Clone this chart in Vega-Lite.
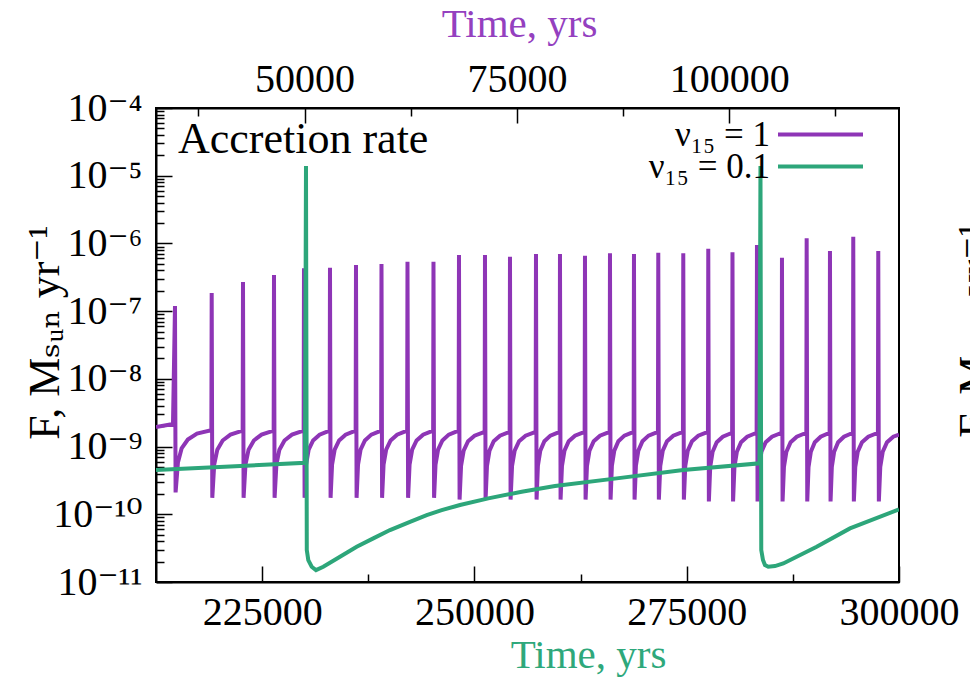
{
  "$schema": "https://vega.github.io/schema/vega-lite/v6.json",
  "width": 743,
  "height": 474,
  "autosize": "none",
  "padding": {"left": 156, "top": 108, "right": 71, "bottom": 98},
  "background": "white",
  "datasets": {
    "purple": [
      {"t":32500,"v":1.94e-9},{"t":34500,"v":2.15e-9},
      {"t":34737,"v":1.19e-7},{"t":34807,"v":2.1e-10},{"t":35083,"v":5.8e-10},{"t":35515,"v":9.4e-10},{"t":36250,"v":1.27e-9},{"t":37330,"v":1.55e-9},{"t":39019,"v":1.75e-9},
      {"t":39059,"v":1.85e-7},{"t":39129,"v":1.75e-10},{"t":39354,"v":5.4e-10},{"t":39722,"v":9.0e-10},{"t":40349,"v":1.23e-9},{"t":41271,"v":1.5e-9},{"t":42705,"v":1.72e-9},
      {"t":42745,"v":2.69e-7},{"t":42815,"v":1.75e-10},{"t":43037,"v":5.4e-10},{"t":43402,"v":9.0e-10},{"t":44023,"v":1.23e-9},{"t":44936,"v":1.5e-9},{"t":46356,"v":1.72e-9},
      {"t":46396,"v":3.41e-7},{"t":46466,"v":1.75e-10},{"t":46679,"v":5.4e-10},{"t":47032,"v":9.0e-10},{"t":47632,"v":1.23e-9},{"t":48515,"v":1.5e-9},{"t":49888,"v":1.72e-9},
      {"t":49928,"v":4.29e-7},{"t":49998,"v":1.75e-10},{"t":50173,"v":5.4e-10},{"t":50479,"v":9.0e-10},{"t":51000,"v":1.23e-9},{"t":51765,"v":1.5e-9},{"t":52950,"v":1.72e-9},
      {"t":52990,"v":4.38e-7},{"t":53060,"v":1.75e-10},{"t":53235,"v":5.4e-10},{"t":53541,"v":9.0e-10},{"t":54062,"v":1.23e-9},{"t":54827,"v":1.5e-9},{"t":56012,"v":1.72e-9},
      {"t":56052,"v":4.8e-7},{"t":56122,"v":1.75e-10},{"t":56292,"v":5.4e-10},{"t":56593,"v":9.0e-10},{"t":57103,"v":1.23e-9},{"t":57854,"v":1.5e-9},{"t":59015,"v":1.72e-9},
      {"t":59055,"v":4.96e-7},{"t":59125,"v":1.75e-10},{"t":59300,"v":5.4e-10},{"t":59606,"v":9.0e-10},{"t":60127,"v":1.23e-9},{"t":60892,"v":1.5e-9},{"t":62077,"v":1.72e-9},
      {"t":62117,"v":5.37e-7},{"t":62187,"v":1.75e-10},{"t":62362,"v":5.4e-10},{"t":62668,"v":9.0e-10},{"t":63188,"v":1.23e-9},{"t":63954,"v":1.5e-9},{"t":65138,"v":1.72e-9},
      {"t":65178,"v":5.37e-7},{"t":65248,"v":1.75e-10},{"t":65418,"v":5.4e-10},{"t":65719,"v":9.0e-10},{"t":66229,"v":1.23e-9},{"t":66980,"v":1.5e-9},{"t":68141,"v":1.72e-9},
      {"t":68181,"v":6.74e-7},{"t":68251,"v":1.65e-10},{"t":68426,"v":5.2e-10},{"t":68732,"v":8.7e-10},{"t":69253,"v":1.2e-9},{"t":70018,"v":1.45e-9},{"t":71203,"v":1.65e-9},
      {"t":71243,"v":6.74e-7},{"t":71313,"v":1.65e-10},{"t":71479,"v":5.2e-10},{"t":71773,"v":8.7e-10},{"t":72273,"v":1.2e-9},{"t":73009,"v":1.45e-9},{"t":74147,"v":1.65e-9},
      {"t":74187,"v":6.37e-7},{"t":74257,"v":1.65e-10},{"t":74432,"v":5.2e-10},{"t":74738,"v":8.7e-10},{"t":75259,"v":1.2e-9},{"t":76024,"v":1.45e-9},{"t":77209,"v":1.65e-9},
      {"t":77249,"v":6.97e-7},{"t":77319,"v":1.65e-10},{"t":77475,"v":5.2e-10},{"t":77758,"v":8.7e-10},{"t":78238,"v":1.2e-9},{"t":78945,"v":1.45e-9},{"t":80035,"v":1.65e-9},
      {"t":80075,"v":6.97e-7},{"t":80145,"v":1.65e-10},{"t":80311,"v":5.2e-10},{"t":80605,"v":8.7e-10},{"t":81105,"v":1.2e-9},{"t":81841,"v":1.45e-9},{"t":82979,"v":1.65e-9},
      {"t":83019,"v":6.58e-7},{"t":83089,"v":1.65e-10},{"t":83255,"v":5.2e-10},{"t":83549,"v":8.7e-10},{"t":84049,"v":1.2e-9},{"t":84785,"v":1.45e-9},{"t":85923,"v":1.65e-9},
      {"t":85963,"v":7.14e-7},{"t":86033,"v":1.65e-10},{"t":86189,"v":5.2e-10},{"t":86472,"v":8.7e-10},{"t":86952,"v":1.2e-9},{"t":87659,"v":1.45e-9},{"t":88749,"v":1.65e-9},
      {"t":88789,"v":6.97e-7},{"t":88859,"v":1.65e-10},{"t":89018,"v":5.2e-10},{"t":89304,"v":8.7e-10},{"t":89791,"v":1.2e-9},{"t":90506,"v":1.45e-9},{"t":91611,"v":1.65e-9},
      {"t":91651,"v":7.29e-7},{"t":91721,"v":1.65e-10},{"t":91887,"v":5.2e-10},{"t":92181,"v":8.7e-10},{"t":92681,"v":1.2e-9},{"t":93417,"v":1.45e-9},{"t":94555,"v":1.65e-9},
      {"t":94595,"v":7.14e-7},{"t":94665,"v":1.65e-10},{"t":94831,"v":5.2e-10},{"t":95125,"v":8.7e-10},{"t":95625,"v":1.2e-9},{"t":96361,"v":1.45e-9},{"t":97499,"v":1.65e-9},
      {"t":97539,"v":8.35e-7},{"t":97609,"v":1.55e-10},{"t":97767,"v":5.0e-10},{"t":98052,"v":8.4e-10},{"t":98537,"v":1.16e-9},{"t":99249,"v":1.4e-9},{"t":100349,"v":1.6e-9},
      {"t":100389,"v":7.39e-7},{"t":100459,"v":1.55e-10},{"t":100620,"v":5.0e-10},{"t":100908,"v":8.4e-10},{"t":101399,"v":1.16e-9},{"t":102120,"v":1.4e-9},{"t":103234,"v":1.6e-9},
      {"t":103274,"v":9.47e-7},{"t":103344,"v":1.55e-10},{"t":103510,"v":5.0e-10},{"t":103804,"v":8.4e-10},{"t":104304,"v":1.16e-9},{"t":105040,"v":1.4e-9},{"t":106178,"v":1.6e-9},
      {"t":106218,"v":6.15e-7},{"t":106288,"v":1.55e-10},{"t":106451,"v":5.0e-10},{"t":106741,"v":8.4e-10},{"t":107236,"v":1.16e-9},{"t":107963,"v":1.4e-9},{"t":109086,"v":1.6e-9},
      {"t":109126,"v":1.19e-6},{"t":109196,"v":1.55e-10},{"t":109346,"v":5.0e-10},{"t":109620,"v":8.4e-10},{"t":110086,"v":1.16e-9},{"t":110772,"v":1.4e-9},{"t":111830,"v":1.6e-9},
      {"t":111870,"v":7.72e-7},{"t":111940,"v":1.55e-10},{"t":112090,"v":5.0e-10},{"t":112364,"v":8.4e-10},{"t":112830,"v":1.16e-9},{"t":113516,"v":1.4e-9},{"t":114574,"v":1.6e-9},
      {"t":114614,"v":1.26e-6},{"t":114684,"v":1.55e-10},{"t":114850,"v":5.0e-10},{"t":115144,"v":8.4e-10},{"t":115644,"v":1.16e-9},{"t":116380,"v":1.4e-9},{"t":117518,"v":1.6e-9},
      {"t":117558,"v":7.72e-7},{"t":117628,"v":1.55e-10},{"t":117794,"v":5.0e-10},{"t":118088,"v":8.4e-10},{"t":118588,"v":1.16e-9},{"t":119324,"v":1.4e-9},{"t":120000,"v":1.5e-9}
    ],
    "green": [
      {"t":212500,"v":4.5e-10},{"t":221214,"v":5.07e-10},{"t":230046,"v":5.77e-10},{"t":230164,"v":1.39e-5},{"t":230258,"v":2.96e-11},{"t":230435,"v":2.11e-11},{"t":230835,"v":1.68e-11},{"t":231342,"v":1.5e-11},{"t":232201,"v":1.68e-11},{"t":234168,"v":2.36e-11},{"t":236134,"v":3.31e-11},{"t":238089,"v":4.41e-11},{"t":240056,"v":5.85e-11},{"t":242411,"v":7.74e-11},{"t":244378,"v":9.73e-11},{"t":246144,"v":1.15e-10},{"t":248299,"v":1.37e-10},{"t":251632,"v":1.72e-10},{"t":255566,"v":2.15e-10},{"t":259487,"v":2.61e-10},{"t":266753,"v":3.39e-10},{"t":274596,"v":4.5e-10},{"t":283568,"v":5.65e-10},{"t":283686,"v":1.39e-5},{"t":283780,"v":2.96e-11},{"t":283981,"v":2.11e-11},{"t":284216,"v":1.78e-11},{"t":284605,"v":1.68e-11},{"t":285394,"v":1.72e-11},{"t":286372,"v":1.88e-11},{"t":290305,"v":3.31e-11},{"t":294227,"v":6.19e-11},{"t":300000,"v":1.18e-10}
    ]
  },
  "layer": [
    {
      "data": {"name": "purple"},
      "mark": {"type": "line", "strokeWidth": 4, "clip": true},
      "encoding": {
        "x": {"field": "t", "type": "quantitative",
          "scale": {"domain": [32500, 120000], "nice": false, "zero": false},
          "axis": {"orient": "top", "values": [37500, 50000, 62500, 75000, 87500, 100000, 112500],
            "labelExpr": "datum.value % 25000 == 0 ? format(datum.value, 'd') : ''",
            "tickSize": {"condition": {"test": "datum.value % 25000 == 0", "value": -15}, "value": -8},
            "labelPadding": 24, "labelBaseline": "bottom",
            "title": "Time, yrs", "titleColor": "#9440BF", "titleFontSize": 41, "titleX": 363, "titleY": -72, "titleBaseline": "alphabetic", "titleAlign": "center", "domain": true}},
        "y": {"field": "v", "type": "quantitative",
          "scale": {"type": "log", "domain": [1e-11, 1e-4], "nice": false},
          "axis": {"orient": "right", "domain": false, "ticks": false, "labels": false,
            "title": "F, Mₛᵤₙ yr⁻¹", "titleAngle": -90, "titleBaseline": "alphabetic", "titleAlign": "center", "titleX": 89, "titleY": 222, "titleFontSize": 44}},
        "color": {"datum": "ν₁₅ = 1", "type": "nominal",
          "scale": {"domain": ["ν₁₅ = 1"], "range": ["#8E35B6"]},
          "legend": {"title": null, "legendX": 620, "legendY": -18}}
      }
    },
    {
      "data": {"name": "green"},
      "mark": {"type": "line", "strokeWidth": 4, "clip": true},
      "encoding": {
        "x": {"field": "t", "type": "quantitative",
          "scale": {"domain": [212500, 300000], "nice": false, "zero": false},
          "axis": {"orient": "bottom", "values": [225000, 237500, 250000, 262500, 275000, 287500, 300000],
            "labelExpr": "datum.value % 25000 == 0 ? format(datum.value, 'd') : ''",
            "tickSize": {"condition": {"test": "datum.value % 25000 == 0", "value": -16}, "value": -8},
            "labelPadding": 26, "labelBaseline": "top",
            "title": "Time, yrs", "titleColor": "#2EA87B", "titleFontSize": 41, "titleX": 432, "titleY": 85, "titleBaseline": "alphabetic", "titleAlign": "center", "domain": true}},
        "y": {"field": "v", "type": "quantitative",
          "scale": {"type": "log", "domain": [1e-11, 1e-4], "nice": false},
          "axis": {"orient": "left",
            "values": [1e-11,2e-11,3e-11,4e-11,5e-11,6e-11,7e-11,8e-11,9e-11,1e-10,2e-10,3e-10,4e-10,5e-10,6e-10,7e-10,8e-10,9e-10,1e-9,2e-9,3e-9,4e-9,5e-9,6e-9,7e-9,8e-9,9e-9,1e-8,2e-8,3e-8,4e-8,5e-8,6e-8,7e-8,8e-8,9e-8,1e-7,2e-7,3e-7,4e-7,5e-7,6e-7,7e-7,8e-7,9e-7,1e-6,2e-6,3e-6,4e-6,5e-6,6e-6,7e-6,8e-6,9e-6,1e-5,2e-5,3e-5,4e-5,5e-5,6e-5,7e-5,8e-5,9e-5,1e-4],
            "labelExpr": "datum.value == 1e-4 ? '10⁻⁴' : datum.value == 1e-5 ? '10⁻⁵' : datum.value == 1e-6 ? '10⁻⁶' : datum.value == 1e-7 ? '10⁻⁷' : datum.value == 1e-8 ? '10⁻⁸' : datum.value == 1e-9 ? '10⁻⁹' : datum.value == 1e-10 ? '10⁻¹⁰' : datum.value == 1e-11 ? '10⁻¹¹' : ''",
            "tickSize": {"condition": {"test": "abs(log(datum.value)/LN10 - round(log(datum.value)/LN10)) < 1e-6", "value": -16}, "value": -8},
            "labelPadding": 30, "labelBaseline": "middle", "labelFont": "Liberation Serif, DejaVu Serif",
            "title": "F, Mₛᵤₙ yr⁻¹", "titleAngle": -90, "titleBaseline": "alphabetic", "titleAlign": "center", "titleX": -98, "titleY": 224, "titleFontSize": 44}},
        "color": {"datum": "ν₁₅ = 0.1", "type": "nominal",
          "scale": {"domain": ["ν₁₅ = 0.1"], "range": ["#2DA67A"]},
          "legend": {"title": null, "legendX": 620, "legendY": 14}}
      }
    },
    {
      "data": {"values": [{}]},
      "mark": {"type": "text", "text": "Accretion rate", "align": "left", "baseline": "alphabetic", "fontSize": 44, "font": "Liberation Serif", "color": "black"},
      "encoding": {
        "x": {"datum": 215091, "type": "quantitative", "scale": {"domain": [212500, 300000], "nice": false, "zero": false}, "axis": null},
        "y": {"datum": 2.16e-5, "type": "quantitative", "axis": null}
      }
    }
  ],
  "resolve": {"scale": {"x": "independent", "color": "independent"}, "axis": {"y": "independent"}},
  "config": {
    "font": "Liberation Serif",
    "view": {"stroke": "black", "strokeWidth": 2},
    "axis": {"grid": false, "domainColor": "black", "domainWidth": 2, "tickColor": "black", "tickWidth": 1.5,
      "labelFont": "Liberation Serif, DejaVu Serif", "labelFontSize": 40, "labelColor": "black",
      "titleFont": "Liberation Serif, DejaVu Serif", "titleFontSize": 40, "titleFontWeight": "normal", "titleColor": "black",
      "labelFlush": false, "labelOverlap": false, "labelBound": false},
    "legend": {"orient": "none", "symbolType": "stroke", "symbolSize": 7225, "symbolStrokeWidth": 4,
      "labelAlign": "right", "labelOffset": -95, "labelFontSize": 35, "labelFont": "Liberation Serif, DejaVu Serif", "labelColor": "black",
      "padding": 0, "labelLimit": 300}
  }
}
